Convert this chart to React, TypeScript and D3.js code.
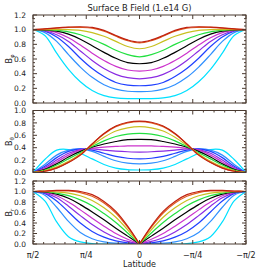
import React from 'react';
import * as d3 from 'd3';

// latitude samples (degrees), pi/2 -> -pi/2
const lats = [90, 80, 70, 60, 50, 40, 30, 20, 10, 0, -10, -20, -30, -40, -50, -60, -70, -80, -90];

const lineColors = ['#00e0ff', '#3090ff', '#2040ff', '#8a2be2', '#cc33cc', '#000000', '#22e040', '#c8c020', '#e06020', '#c02010'];

// B_phi, one row per colour
const bPhi = [
  [1.0, 0.92, 0.68, 0.46, 0.29, 0.17, 0.10, 0.07, 0.06, 0.06, 0.06, 0.07, 0.10, 0.17, 0.29, 0.46, 0.68, 0.92, 1.0],
  [1.0, 0.96, 0.84, 0.66, 0.49, 0.35, 0.25, 0.19, 0.16, 0.155, 0.16, 0.19, 0.25, 0.35, 0.49, 0.66, 0.84, 0.96, 1.0],
  [1.0, 0.98, 0.90, 0.77, 0.61, 0.47, 0.36, 0.28, 0.245, 0.235, 0.245, 0.28, 0.36, 0.47, 0.61, 0.77, 0.90, 0.98, 1.0],
  [1.0, 0.985, 0.93, 0.84, 0.71, 0.58, 0.47, 0.39, 0.345, 0.33, 0.345, 0.39, 0.47, 0.58, 0.71, 0.84, 0.93, 0.985, 1.0],
  [1.0, 0.99, 0.96, 0.89, 0.79, 0.68, 0.58, 0.50, 0.45, 0.435, 0.45, 0.50, 0.58, 0.68, 0.79, 0.89, 0.96, 0.99, 1.0],
  [1.0, 0.995, 0.98, 0.94, 0.87, 0.78, 0.69, 0.61, 0.55, 0.535, 0.55, 0.61, 0.69, 0.78, 0.87, 0.94, 0.98, 0.995, 1.0],
  [1.0, 1.0, 0.99, 0.97, 0.93, 0.87, 0.80, 0.72, 0.66, 0.63, 0.66, 0.72, 0.80, 0.87, 0.93, 0.97, 0.99, 1.0, 1.0],
  [1.0, 1.0, 1.0, 1.0, 0.99, 0.96, 0.91, 0.84, 0.77, 0.74, 0.77, 0.84, 0.91, 0.96, 0.99, 1.0, 1.0, 1.0, 1.0],
  [1.0, 1.01, 1.02, 1.03, 1.03, 1.02, 0.98, 0.91, 0.85, 0.82, 0.85, 0.91, 0.98, 1.02, 1.03, 1.03, 1.02, 1.01, 1.0],
  [1.0, 1.01, 1.025, 1.035, 1.04, 1.03, 0.99, 0.92, 0.86, 0.83, 0.86, 0.92, 0.99, 1.03, 1.04, 1.035, 1.025, 1.01, 1.0],
];

// B_theta
const bTheta = [
  [0, 0.21, 0.36, 0.37, 0.31, 0.22, 0.13, 0.07, 0.045, 0.04, 0.045, 0.07, 0.13, 0.22, 0.31, 0.37, 0.36, 0.21, 0],
  [0, 0.13, 0.28, 0.36, 0.38, 0.34, 0.26, 0.19, 0.15, 0.14, 0.15, 0.19, 0.26, 0.34, 0.38, 0.36, 0.28, 0.13, 0],
  [0, 0.10, 0.24, 0.34, 0.38, 0.36, 0.31, 0.26, 0.23, 0.22, 0.23, 0.26, 0.31, 0.36, 0.38, 0.34, 0.24, 0.10, 0],
  [0, 0.08, 0.20, 0.31, 0.37, 0.38, 0.36, 0.345, 0.335, 0.33, 0.335, 0.345, 0.36, 0.38, 0.37, 0.31, 0.20, 0.08, 0],
  [0, 0.06, 0.17, 0.28, 0.36, 0.39, 0.41, 0.42, 0.43, 0.43, 0.43, 0.42, 0.41, 0.39, 0.36, 0.28, 0.17, 0.06, 0],
  [0, 0.05, 0.14, 0.25, 0.34, 0.41, 0.46, 0.50, 0.53, 0.535, 0.53, 0.50, 0.46, 0.41, 0.34, 0.25, 0.14, 0.05, 0],
  [0, 0.04, 0.12, 0.22, 0.32, 0.42, 0.51, 0.58, 0.62, 0.63, 0.62, 0.58, 0.51, 0.42, 0.32, 0.22, 0.12, 0.04, 0],
  [0, 0.03, 0.09, 0.18, 0.30, 0.44, 0.57, 0.67, 0.72, 0.74, 0.72, 0.67, 0.57, 0.44, 0.30, 0.18, 0.09, 0.03, 0],
  [0, 0.02, 0.075, 0.165, 0.285, 0.46, 0.62, 0.74, 0.80, 0.82, 0.80, 0.74, 0.62, 0.46, 0.285, 0.165, 0.075, 0.02, 0],
  [0, 0.02, 0.07, 0.16, 0.28, 0.46, 0.63, 0.75, 0.81, 0.83, 0.81, 0.75, 0.63, 0.46, 0.28, 0.16, 0.07, 0.02, 0],
];

// B_r
const bR = [
  [1.0, 0.82, 0.42, 0.14, 0.04, 0.01, 0.0, 0.0, 0.0, 0.0, 0.0, 0.0, 0.0, 0.01, 0.04, 0.14, 0.42, 0.82, 1.0],
  [1.0, 0.93, 0.70, 0.43, 0.22, 0.10, 0.04, 0.015, 0.005, 0, 0.005, 0.015, 0.04, 0.10, 0.22, 0.43, 0.70, 0.93, 1.0],
  [1.0, 0.96, 0.82, 0.61, 0.40, 0.24, 0.13, 0.06, 0.02, 0, 0.02, 0.06, 0.13, 0.24, 0.40, 0.61, 0.82, 0.96, 1.0],
  [1.0, 0.975, 0.88, 0.72, 0.54, 0.37, 0.23, 0.12, 0.05, 0, 0.05, 0.12, 0.23, 0.37, 0.54, 0.72, 0.88, 0.975, 1.0],
  [1.0, 0.985, 0.92, 0.80, 0.65, 0.49, 0.34, 0.20, 0.09, 0, 0.09, 0.20, 0.34, 0.49, 0.65, 0.80, 0.92, 0.985, 1.0],
  [1.0, 0.99, 0.95, 0.87, 0.75, 0.61, 0.46, 0.30, 0.15, 0, 0.15, 0.30, 0.46, 0.61, 0.75, 0.87, 0.95, 0.99, 1.0],
  [1.0, 0.995, 0.97, 0.92, 0.84, 0.73, 0.58, 0.41, 0.21, 0, 0.21, 0.41, 0.58, 0.73, 0.84, 0.92, 0.97, 0.995, 1.0],
  [1.0, 1.0, 0.99, 0.97, 0.92, 0.83, 0.69, 0.51, 0.27, 0, 0.27, 0.51, 0.69, 0.83, 0.92, 0.97, 0.99, 1.0, 1.0],
  [1.0, 1.005, 1.01, 1.01, 0.98, 0.91, 0.78, 0.59, 0.32, 0, 0.32, 0.59, 0.78, 0.91, 0.98, 1.01, 1.01, 1.005, 1.0],
  [1.0, 1.01, 1.02, 1.02, 1.0, 0.94, 0.81, 0.62, 0.34, 0, 0.34, 0.62, 0.81, 0.94, 1.0, 1.02, 1.02, 1.01, 1.0],
];

const xTickVals = [90, 45, 0, -45, -90];
const xTickLabels = ['\u03c0/2', '\u03c0/4', '0', '\u2212\u03c0/4', '\u2212\u03c0/2'];

const W = 274;
const H = 274;
const left = 33;
const right = 246;
const axisColor = '#4a3a30';
const font = 'DejaVu Sans, sans-serif';

const panels = [
  { label: '\u03c6', data: bPhi, top: 15, bottom: 103, max: 1.2, split: false },
  { label: '\u03b8', data: bTheta, top: 110.5, bottom: 172.5, max: 1.0, split: false },
  { label: 'r', data: bR, top: 181, bottom: 244, max: 1.2, split: true },
];

const x = d3.scaleLinear().domain([90, -90]).range([left, right]);

const Panel = ({ p, last }) => {
  const y = d3.scaleLinear().domain([0, p.max]).range([p.bottom, p.top]);
  const line = d3.line()
    .x(d => x(d[0]))
    .y(d => y(d[1]))
    .curve(d3.curveCatmullRom.alpha(0.5));

  const yMajor = d3.range(0, p.max + 0.001, 0.2);
  const yMinor = d3.range(0, p.max + 0.001, 0.05);
  const xMinor = d3.range(-90, 90.001, 9);

  const paths = [];
  p.data.forEach((row, i) => {
    const pts = lats.map((l, j) => [l, row[j]]);
    if (p.split) {
      // sharp V at the equator
      paths.push(<path key={i + 'a'} d={line(pts.slice(0, 10))} fill="none" stroke={lineColors[i]} strokeWidth={1.2} />);
      paths.push(<path key={i + 'b'} d={line(pts.slice(9))} fill="none" stroke={lineColors[i]} strokeWidth={1.2} />);
    } else {
      paths.push(<path key={i} d={line(pts)} fill="none" stroke={lineColors[i]} strokeWidth={1.2} />);
    }
  });

  const midY = (p.top + p.bottom) / 2;

  return (
    <g>
      <clipPath id={'clip' + p.label}>
        <rect x={left} y={p.top} width={right - left} height={p.bottom - p.top} />
      </clipPath>
      <g clipPath={`url(#clip${p.label})`}>{paths}</g>
      <rect x={left} y={p.top} width={right - left} height={p.bottom - p.top} fill="none" stroke={axisColor} strokeWidth={1} />
      {yMinor.map((v, i) => {
        const major = Math.abs(v / 0.2 - Math.round(v / 0.2)) < 1e-6;
        const len = major ? 4 : 2;
        return (
          <g key={'yt' + i}>
            <line x1={left} x2={left + len} y1={y(v)} y2={y(v)} stroke={axisColor} />
            <line x1={right} x2={right - len} y1={y(v)} y2={y(v)} stroke={axisColor} />
          </g>
        );
      })}
      {yMajor.map((v, i) => (
        <text key={'yl' + i} x={left - 7} y={y(v)} dy="0.35em" textAnchor="end" fontSize={7.5} fontFamily={font} fill="#222">
          {v.toFixed(1)}
        </text>
      ))}
      {xMinor.map((v, i) => {
        const major = Math.abs(v % 45) < 1e-6;
        const len = major ? 4 : 2;
        return (
          <g key={'xt' + i}>
            <line x1={x(v)} x2={x(v)} y1={p.bottom} y2={p.bottom - len} stroke={axisColor} />
            <line x1={x(v)} x2={x(v)} y1={p.top} y2={p.top + len} stroke={axisColor} />
          </g>
        );
      })}
      <text transform={`translate(12,${midY}) rotate(-90)`} textAnchor="middle" fontSize={8} fontFamily={font} fill="#222">
        B<tspan fontSize={5.5} dy={2}>{p.label}</tspan>
      </text>
      {last && xTickVals.map((v, i) => (
        <text key={'xl' + i} x={x(v)} y={258} textAnchor="middle" fontSize={8} fontFamily={font} fill="#222">
          {xTickLabels[i]}
        </text>
      ))}
    </g>
  );
};

export default function App() {
  return (
    <svg width={W} height={H} style={{ position: 'fixed', left: 0, top: 0, background: '#fff' }}>
      <rect width={W} height={H} fill="#fff" />
      <text x={139.5} y={11} textAnchor="middle" fontSize={8.5} fontFamily={font} fill="#222" textLength={104} lengthAdjust="spacingAndGlyphs">
        Surface B Field (1.e14 G)
      </text>
      {panels.map((p, i) => <Panel key={i} p={p} last={i === 2} />)}
      <text x={139.5} y={267} textAnchor="middle" fontSize={8} fontFamily={font} fill="#222">Latitude</text>
    </svg>
  );
}
